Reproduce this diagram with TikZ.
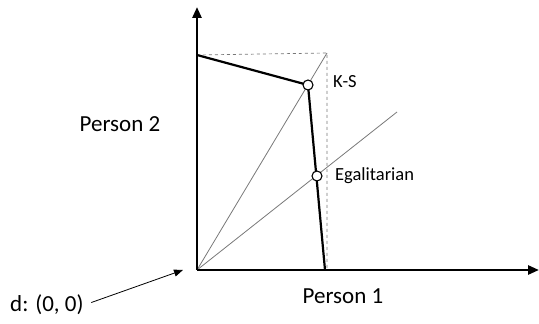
\documentclass[tikz,border=0pt]{standalone}
\usepackage{fontspec}
\setmainfont{Carlito}
\usepackage{tikz}
\usetikzlibrary{arrows.meta,positioning}
\definecolor{guidegray}{RGB}{120,120,120}

\begin{document}
\begin{tikzpicture}[x=1pt, y=1pt, axis/.style={line width=2.6pt,-{Triangle[length=11pt,width=9pt]}}, frontier/.style={line width=2.2pt}, ray/.style={guidegray, line width=0.8pt}, guide/.style={guidegray, dashed, line width=0.7pt}, pt/.style={circle,draw,line width=1.1pt,fill=white,minimum size=10pt,inner sep=0pt}, big/.style={font=\fontsize{23}{26}\selectfont}, small/.style={font=\fontsize{18.5}{21}\selectfont}]
\useasboundingbox (0,0) rectangle (539,324);
\coordinate (O) at (197,54);
\coordinate (ytop) at (197,317);
\coordinate (xend) at (539,54);
\coordinate (corner) at (327,271);
\coordinate (cornerdown) at (327,54);
\coordinate (frontA) at (197,269);
\coordinate (frontB) at (325,54);
\coordinate (egalend) at (397,212);
\coordinate (dtip) at (183,54);
% guides
\draw[guide] (frontA) -- (corner) -- (cornerdown);
\draw[ray] (O) -- (corner);
\draw[ray] (O) -- (egalend);
% frontier
\draw[frontier] (frontA) -- (308,239) -- (frontB);
\node[pt] (ks) at (308,239) {};
\node[pt] (egal) at (317,148) {};
% axes
\draw[axis] (O) -- (ytop);
\draw[axis] (O) -- (xend);
% labels
\node[big, anchor=base] (p2) at (120,192) {Person 2};
\node[big, anchor=base] (p1) at (343,20) {Person 1};
\node[small, anchor=base west, inner sep=0pt] (kslabel) at (333,236) {K-S};
\node[small, anchor=base west, inner sep=0pt] (egallabel) at (335,143) {Egalitarian};
\node[big, anchor=base west, inner sep=0pt] (dlabel) at (10,12) {d: (0, 0)};
\draw[-{Triangle[length=9pt,width=7pt]}, line width=0.8pt, shorten <=8pt] (dlabel.east) -- (dtip);
\end{tikzpicture}
\end{document}
